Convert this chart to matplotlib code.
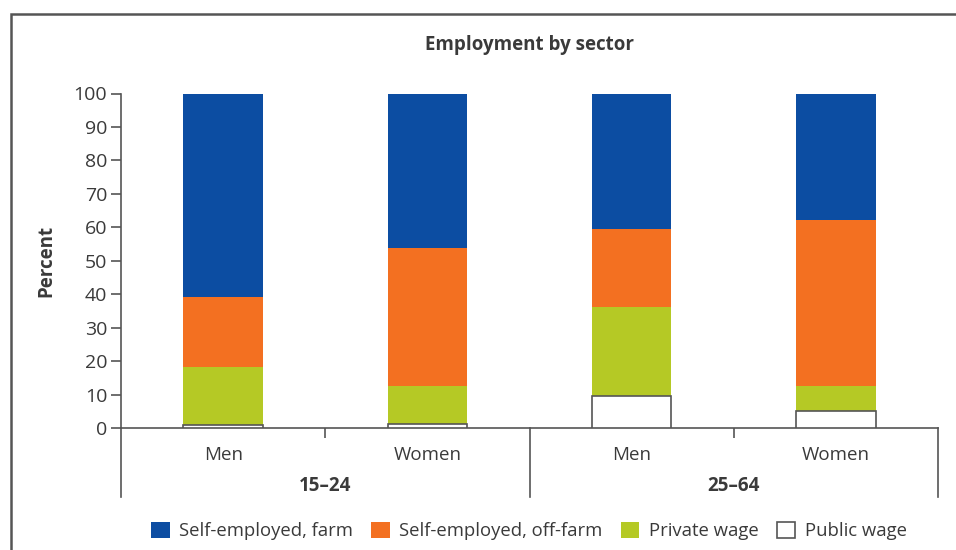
import matplotlib
matplotlib.use('Agg')
import matplotlib.pyplot as plt
from matplotlib.patches import Rectangle, Patch
import matplotlib.transforms as mtransforms
import numpy as np

plt.rcParams['font.family'] = ['Open Sans', 'DejaVu Sans']

sexes = ['Men', 'Women', 'Men', 'Women']
age_groups = ['15\u201324', '25\u201364']
series = ['Self-employed, farm', 'Self-employed, off-farm', 'Private wage', 'Public wage']

public_wage = [0.8, 1.3, 9.6, 5.0]
private_wage = [17.3, 11.3, 26.5, 7.5]
self_off_farm = [21.2, 41.1, 23.3, 49.6]
self_farm = [60.7, 46.3, 40.6, 37.9]

colors = {'farm': '#0c4da2', 'off': '#f37021', 'priv': '#b5c925', 'pub': 'white'}
text_col = '#3a3a3a'
line_col = '#555555'

fig = plt.figure(figsize=(9.56, 5.5), dpi=100)
ax = fig.add_axes([121 / 956, 1 - 428 / 550, (938 - 121) / 956, (428 - 93.5) / 550])

x = np.arange(len(sexes))
w = 0.39
b = np.zeros(len(x))
ax.bar(x, public_wage, w, bottom=b, color=colors['pub'], edgecolor=line_col, linewidth=1.2, zorder=3)
b += public_wage
ax.bar(x, private_wage, w, bottom=b, color=colors['priv'], linewidth=0)
b += private_wage
ax.bar(x, self_off_farm, w, bottom=b, color=colors['off'], linewidth=0)
b += self_off_farm
ax.bar(x, self_farm, w, bottom=b, color=colors['farm'], linewidth=0)

ax.set_xlim(-0.5, 3.5)
ax.set_ylim(0, 100)
ax.set_yticks(range(0, 101, 10))
ax.spines['top'].set_visible(False)
ax.spines['right'].set_visible(False)
for s in ['left', 'bottom']:
    ax.spines[s].set_color(line_col)
    ax.spines[s].set_linewidth(1.2)
ax.tick_params(axis='y', length=7, width=1.2, color=line_col, labelcolor=text_col,
               labelsize=14, pad=3)

ax.set_xticks(x)
ax.set_xticklabels(sexes)
ax.tick_params(axis='x', which='major', length=0, labelsize=13.5, labelcolor=text_col, pad=13)
ax.set_xticks([0.5, 2.5], minor=True)
ax.tick_params(axis='x', which='minor', length=7, width=1.2, color=line_col)

# group bracket lines
trans = mtransforms.blended_transform_factory(ax.transData, ax.transAxes)
low = -(497 - 428) / 334.5
for xv in [-0.5, 1.5, 3.5]:
    ax.plot([xv, xv], [0, low], transform=trans, color=line_col, lw=1.2, clip_on=False)
for i, g in enumerate(age_groups):
    ax.text(2 * i + 0.5, -(486 - 428) / 334.5, g, transform=trans, ha='center', va='center',
            fontsize=13.5, fontweight='bold', color=text_col)

ax.set_ylabel('Percent', fontsize=13.5, fontweight='bold', color=text_col, labelpad=12)
fig.text(529.5 / 956, 1 - 45 / 550, 'Employment by sector', ha='center', va='center',
         fontsize=13.5, fontweight='bold', color=text_col)

handles = [Patch(facecolor=colors['farm'], edgecolor='none'),
           Patch(facecolor=colors['off'], edgecolor='none'),
           Patch(facecolor=colors['priv'], edgecolor='none'),
           Patch(facecolor='white', edgecolor=line_col, linewidth=1.2)]
fig.legend(handles, series, loc='center', bbox_to_anchor=(529 / 956, 1 - 531 / 550), ncol=4,
           frameon=False, fontsize=13.3, handlelength=1.0, handleheight=1.0,
           handletextpad=0.5, columnspacing=1.0, labelcolor=text_col)

# outer frame
fig.patches.append(Rectangle((11 / 956, -0.1), 1.2, 1.1 - 14 / 550, transform=fig.transFigure,
                             fill=False, edgecolor='#555555', linewidth=1.8))

fig.savefig('out.png', dpi=100)
